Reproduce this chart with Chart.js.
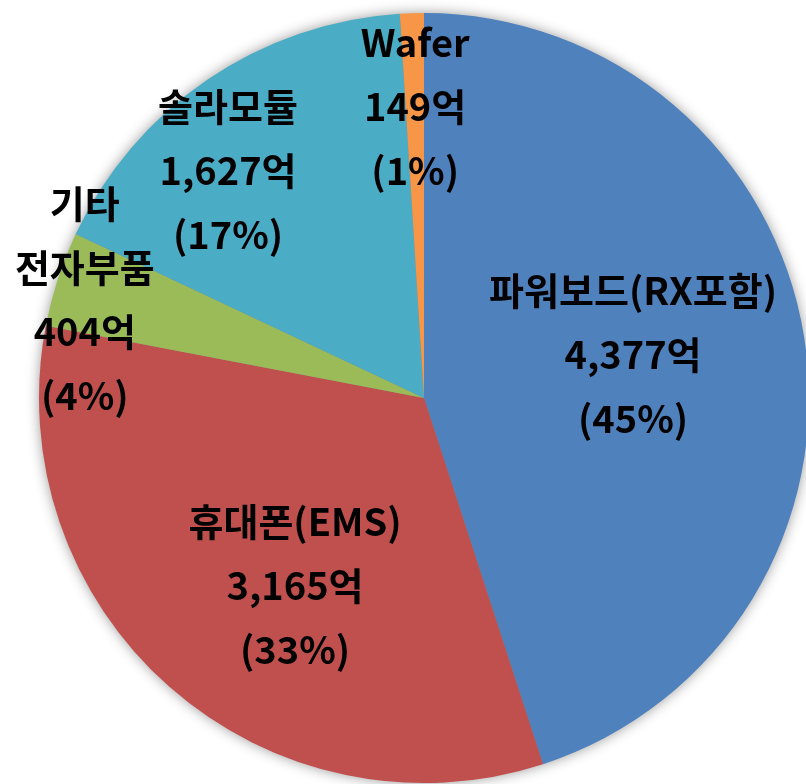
<!DOCTYPE html>
<html>
<head>
<meta charset="utf-8">
<script src="https://cdn.jsdelivr.net/npm/chart.js@4"></script>
<style>
html,body{margin:0;padding:0;background:#fff;overflow:hidden;width:806px;height:784px;}
#c{position:absolute;left:0;top:0;}
</style>
</head>
<body>
<canvas id="c" width="848" height="796"></canvas>
<script>
// ---- data ----
const categories = [['파워보드(RX포함)'], ['휴대폰(EMS)'], ['기타', '전자부품'], ['솔라모듈'], ['Wafer']];
const shares = [45, 33, 4, 17, 1];            // percent, drives slice size
const amounts = ['4,377억', '3,165억', '404억', '1,627억', '149억'];
const shareLabels = ['(45%)', '(33%)', '(4%)', '(17%)', '(1%)'];
const colors = ['#4F81BD', '#C0504D', '#9BBB59', '#4BACC6', '#F79646'];

// label anchor positions relative to pie centre, in units of the radius
const labelPos = [[0.543, -0.112], [-0.335, 0.486], [-0.881, -0.255], [-0.509, -0.592], [-0.023, -0.756]];
const LINE_H = 64;
const FONT = 'bold 38px "Noto Sans CJK KR", "Noto Sans", sans-serif';

const shadowPlugin = {
  id: 'pieShadow',
  beforeDatasetsDraw(chart) {
    const arc = chart.getDatasetMeta(0).data[0];
    if (!arc) return;
    const ctx = chart.ctx;
    ctx.save();
    ctx.shadowColor = 'rgba(0,0,0,0.45)';
    ctx.shadowBlur = 14;
    ctx.shadowOffsetX = 0;
    ctx.shadowOffsetY = 0;
    ctx.fillStyle = '#888';
    ctx.beginPath();
    ctx.arc(arc.x, arc.y, arc.outerRadius - 1, 0, Math.PI * 2);
    ctx.fill();
    ctx.restore();
  }
};

const labelPlugin = {
  id: 'pieLabels',
  afterDatasetsDraw(chart) {
    const meta = chart.getDatasetMeta(0);
    const ctx = chart.ctx;
    ctx.save();
    ctx.font = FONT;
    ctx.fillStyle = '#000';
    ctx.textAlign = 'center';
    ctx.textBaseline = 'middle';
    meta.data.forEach((arc, i) => {
      const lines = [...categories[i], amounts[i], shareLabels[i]];
      const cx = arc.x + labelPos[i][0] * arc.outerRadius;
      const cy = arc.y + labelPos[i][1] * arc.outerRadius;
      const top = cy - (lines.length - 1) * LINE_H / 2;
      lines.forEach((t, k) => ctx.fillText(t, cx, top + k * LINE_H));
    });
    ctx.restore();
  }
};

new Chart(document.getElementById('c'), {
  type: 'pie',
  data: {
    labels: categories.map(c => c.join(' ')),
    datasets: [{
      data: shares,
      backgroundColor: colors,
      borderWidth: 0
    }]
  },
  options: {
    responsive: false,
    animation: false,
    devicePixelRatio: 1,
    layout: { padding: 13 },
    plugins: { legend: { display: false }, tooltip: { enabled: false } }
  },
  plugins: [shadowPlugin, labelPlugin]
});
</script>
</body>
</html>
